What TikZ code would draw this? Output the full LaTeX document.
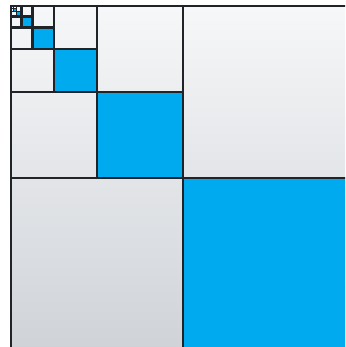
\documentclass[tikz,border=0pt]{standalone}
\definecolor{skyblue}{HTML}{00AAEE}
\definecolor{gridline}{HTML}{202428}
\definecolor{lighttop}{HTML}{F6F7F8}
\definecolor{darkbottom}{HTML}{CFD3D8}
\tikzset{gridstroke/.style={draw=gridline, line width=2.8pt, line cap=rect}}
\begin{document}
\begin{tikzpicture}[x=1pt,y=1pt]
\useasboundingbox (0,0) rectangle (345,347);
\fill[white] (0,0) rectangle (345,347);
\clip (0,0) rectangle (345,347);
\shade[top color=lighttop, bottom color=darkbottom] (11,-3) rectangle (355,341);
\foreach \k in {0,...,6}{
  \pgfmathsetmacro{\s}{344/(2^\k)}
  \fill[skyblue] (11+\s/2,341-\s) rectangle (11+\s,341-\s/2);
}
\foreach \k in {0,...,6}{
  \pgfmathsetmacro{\s}{344/(2^\k)}
  \pgfmathsetmacro{\lw}{\k<5 ? 2.8 : 1.3}
  \draw[gridstroke, line width=\lw pt] (11,341-\s) rectangle (11+\s,341);
  \draw[gridstroke, line width=\lw pt] (11+\s/2,341) -- (11+\s/2,341-\s);
  \draw[gridstroke, line width=\lw pt] (11,341-\s/2) -- (11+\s,341-\s/2);
}
\end{tikzpicture}
\end{document}
